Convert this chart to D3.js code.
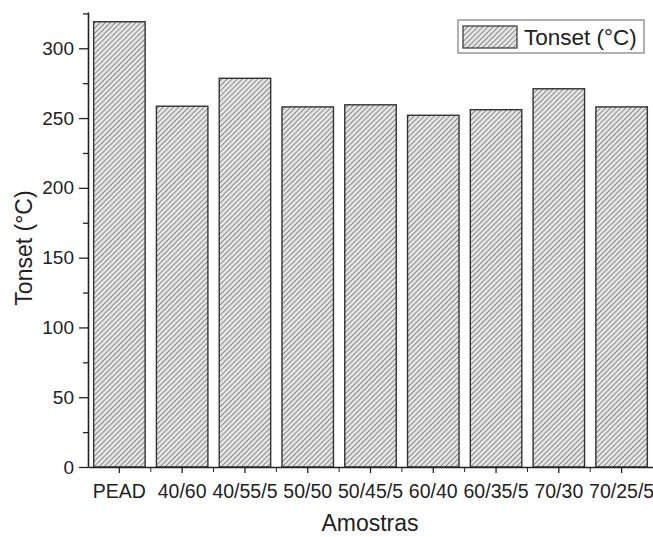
<!DOCTYPE html>
<html>
<head>
<meta charset="utf-8">
<script src="https://cdn.jsdelivr.net/npm/d3@7"></script>
<style>
  body { margin: 0; background: #fff; }
  text { font-family: Arial, "Liberation Sans", sans-serif; fill: #222; }
</style>
</head>
<body>
<svg id="chart" width="653" height="537"></svg>
<script>
const categories = ['PEAD', '40/60', '40/55/5', '50/50', '50/45/5', '60/40', '60/35/5', '70/30', '70/25/5']
const tonset = [319, 258.5, 278.5, 258, 259.5, 252, 256, 271, 258]
const yTicks = [0, 50, 100, 150, 200, 250, 300]
const seriesName = 'Tonset (°C)'

const svg = d3.select('#chart')
const margin = { left: 88, top: 12, bottom: 467, right: 653 }

const x = d3.scaleBand()
    .domain(categories)
    .range([margin.left, margin.right])
    .paddingInner(0.18)
    .paddingOuter(0.09)

const y = d3.scaleLinear()
    .domain([0, 326])
    .range([margin.bottom, margin.top])

// hatch pattern
const defs = svg.append('defs')
const pat = defs.append('pattern')
    .attr('id', 'hatch')
    .attr('patternUnits', 'userSpaceOnUse')
    .attr('width', 3.6)
    .attr('height', 3.6)
    .attr('patternTransform', 'rotate(45)')
pat.append('rect').attr('width', 3.6).attr('height', 3.6).attr('fill', '#e4e4e4')
pat.append('line')
    .attr('x1', 0).attr('y1', 0).attr('x2', 0).attr('y2', 3.6)
    .attr('stroke', '#707070').attr('stroke-width', 1.5)

// bars
svg.append('g')
    .selectAll('rect')
    .data(tonset)
    .join('rect')
    .attr('x', (d, i) => x(categories[i]))
    .attr('y', d => y(d))
    .attr('width', x.bandwidth())
    .attr('height', d => y(0) - y(d))
    .attr('fill', 'url(#hatch)')
    .attr('stroke', '#333')
    .attr('stroke-width', 1.4)

// y axis
const yAxis = svg.append('g')
    .attr('transform', `translate(${margin.left},0)`)
    .call(d3.axisLeft(y).tickValues(yTicks).tickSize(9).tickPadding(5).tickSizeOuter(0))
yAxis.selectAll('text').style('font-size', '19px')
svg.append('g')
    .attr('transform', `translate(${margin.left},0)`)
    .call(d3.axisLeft(y).tickValues(d3.range(25, 326, 50)).tickSize(5).tickFormat('').tickSizeOuter(0))
    .select('.domain').remove()

// x axis
const xAxis = svg.append('g')
    .attr('transform', `translate(0,${margin.bottom})`)
    .call(d3.axisBottom(x).tickSize(6).tickPadding(11).tickSizeOuter(0))
xAxis.selectAll('text').style('font-size', '19.5px')
svg.append('g')
    .selectAll('line')
    .data(categories.slice(1))
    .join('line')
    .attr('x1', d => x(d) - (x.step() - x.bandwidth()) / 2)
    .attr('x2', d => x(d) - (x.step() - x.bandwidth()) / 2)
    .attr('y1', margin.bottom)
    .attr('y2', margin.bottom + 5)
    .attr('stroke', '#222')

svg.selectAll('.domain').attr('stroke', '#222').attr('stroke-width', 1.6)
svg.selectAll('.tick line').attr('stroke', '#222').attr('stroke-width', 1.3)

// axis titles
svg.append('text')
    .attr('x', 370).attr('y', 531)
    .attr('text-anchor', 'middle')
    .style('font-size', '23px')
    .text('Amostras')
svg.append('text')
    .attr('transform', 'translate(32,248) rotate(-90)')
    .attr('text-anchor', 'middle')
    .style('font-size', '23px')
    .text(seriesName)

// legend
const lg = svg.append('g')
lg.append('rect')
    .attr('x', 458).attr('y', 20).attr('width', 186).attr('height', 33)
    .attr('fill', '#fff').attr('stroke', '#888').attr('stroke-width', 1.3)
lg.append('rect')
    .attr('x', 463).attr('y', 26).attr('width', 54).attr('height', 22)
    .attr('fill', 'url(#hatch)').attr('stroke', '#333').attr('stroke-width', 1.2)
lg.append('text')
    .attr('x', 524).attr('y', 45)
    .style('font-size', '22.5px')
    .text(seriesName)
</script>
</body>
</html>
